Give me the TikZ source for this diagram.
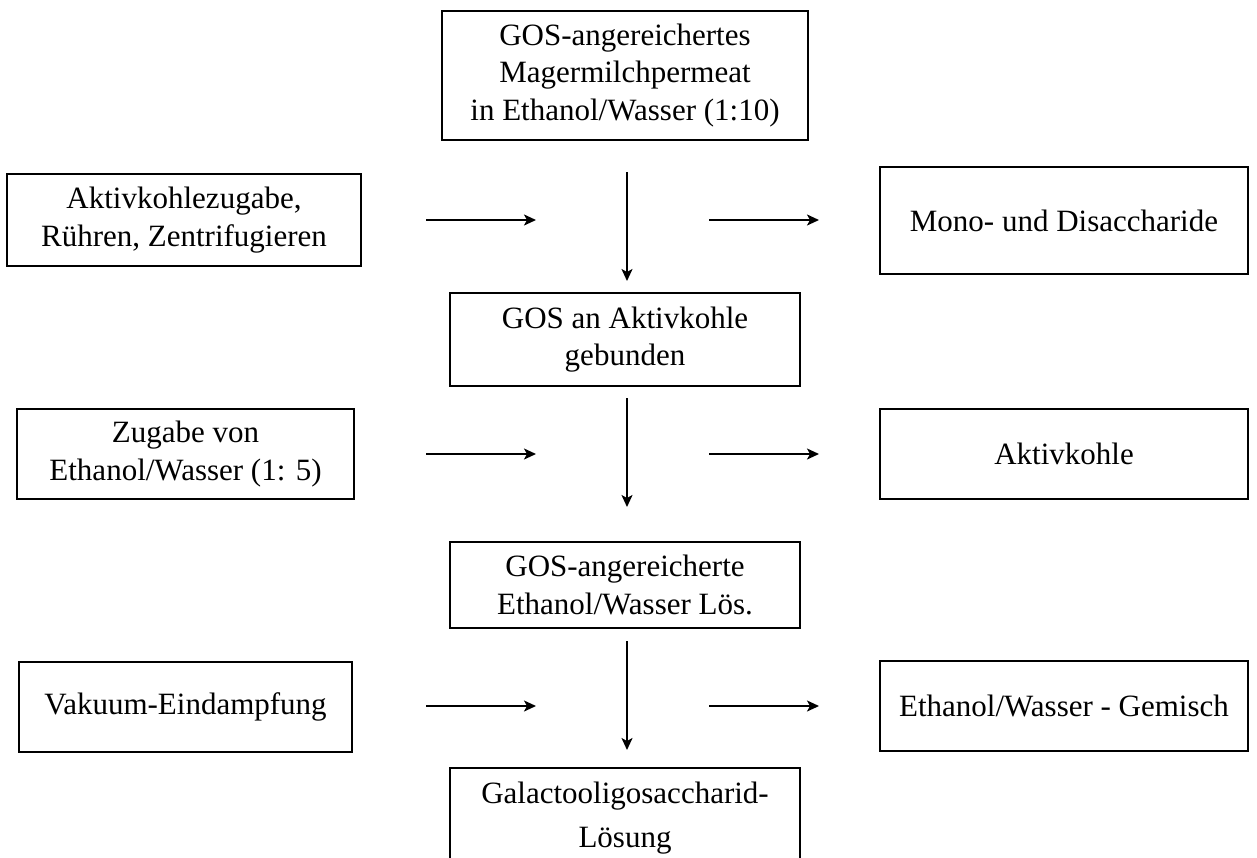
\documentclass[tikz,border=0pt]{standalone}
\usepackage{fontspec}
\setmainfont{Liberation Serif}
\usetikzlibrary{arrows.meta}
\begin{document}
\begin{tikzpicture}[x=1pt,y=-1pt,
  box/.style={draw,line width=1.6pt,align=center,inner sep=0pt,
    font=\fontsize{31}{37.5}\selectfont},
  flow/.style={line width=1.8pt,-{Stealth[length=12pt,width=11pt,inset=3pt]}}]
\clip (0,0) rectangle (1257,857);
\fill[white] (0,0) rectangle (1257,857);
% row 0
\node[box,minimum width=366pt,minimum height=129pt] (top) at (625,75.5)
  {GOS-angereichertes\\Magermilchpermeat\\in Ethanol/Wasser (1:10)};
% row 1
\node[box,minimum width=354pt,minimum height=92pt] (akt) at (184,220)
  {Aktivkohlezugabe,\\Rühren, Zentrifugieren};
\node[box,minimum width=368pt,minimum height=107pt] (mono) at (1064,220.5)
  {Mono- und Disaccharide};
\node[box,minimum width=350pt,minimum height=93pt] (gosak) at (625,339.5)
  {GOS an Aktivkohle\\gebunden};
% row 2
\node[box,minimum width=337pt,minimum height=90pt] (zug) at (185.5,454)
  {Zugabe von\\Ethanol/Wasser (1: 5)};
\node[box,minimum width=368pt,minimum height=90pt] (akk) at (1064,454)
  {Aktivkohle};
\node[box,minimum width=350pt,minimum height=86pt] (gosl) at (625,585)
  {GOS-angereicherte\\Ethanol/Wasser Lös.};
% row 3
\node[box,minimum width=333pt,minimum height=90pt] (vak) at (185.5,707)
  {Vakuum-Eindampfung};
\node[box,minimum width=368pt,minimum height=90pt] (emix) at (1064,706)
  {Ethanol/Wasser - Gemisch};
\node[box,minimum width=350pt,minimum height=100pt,anchor=north,
  font=\fontsize{31}{44}\selectfont] (gal) at (625,767)
  {Galactooligosaccharid-\\Lösung};
% arrow end points
\coordinate (l1s) at (426,220); \coordinate (l1e) at (536,220);
\coordinate (r1s) at (709,220); \coordinate (r1e) at (819,220);
\coordinate (v1s) at (627,172); \coordinate (v1e) at (627,281);
\coordinate (l2s) at (426,454); \coordinate (l2e) at (536,454);
\coordinate (r2s) at (709,454); \coordinate (r2e) at (819,454);
\coordinate (v2s) at (627,398); \coordinate (v2e) at (627,507);
\coordinate (l3s) at (426,706); \coordinate (l3e) at (536,706);
\coordinate (r3s) at (709,706); \coordinate (r3e) at (819,706);
\coordinate (v3s) at (627,641); \coordinate (v3e) at (627,750);
\foreach \a in {l1,r1,v1,l2,r2,v2,l3,r3,v3}
  \draw[flow] (\a s) -- (\a e);
\end{tikzpicture}
\end{document}
